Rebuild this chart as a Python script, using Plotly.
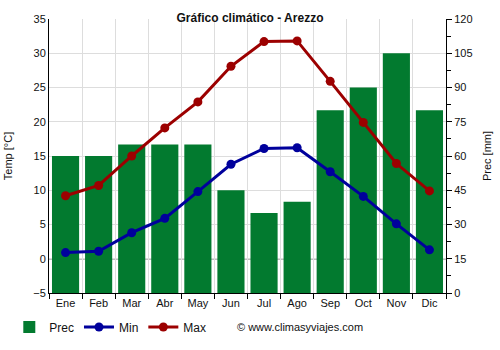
import plotly.graph_objects as go

months = ["Ene", "Feb", "Mar", "Abr", "May", "Jun", "Jul", "Ago", "Sep", "Oct", "Nov", "Dic"]
prec = [60, 60, 65, 65, 65, 45, 35, 40, 80, 90, 105, 80]
t_min = [0.9, 1.1, 3.8, 5.9, 9.8, 13.8, 16.1, 16.2, 12.7, 9.1, 5.1, 1.3]
t_max = [9.2, 10.7, 15.0, 19.1, 22.9, 28.1, 31.7, 31.8, 25.9, 19.9, 13.9, 9.9]

GREEN = "#027a2f"
BLUE = "#00009c"
RED = "#9c0000"
FONT = "Liberation Sans, Arial, sans-serif"

fig = go.Figure()
# precipitation bars on the base (right-hand) axis so the temperature lines sit above them
fig.add_trace(go.Bar(x=months, y=prec, name="Prec", marker=dict(color=GREEN, line_width=0),
                     yaxis="y", width=0.82))
fig.add_trace(go.Scatter(x=months, y=t_min, name="Min", mode="lines+markers", yaxis="y2",
                         line=dict(color=BLUE, width=3), marker=dict(size=9, color=BLUE)))
fig.add_trace(go.Scatter(x=months, y=t_max, name="Max", mode="lines+markers", yaxis="y2",
                         line=dict(color=RED, width=3), marker=dict(size=9, color=RED)))

# 0 °C reference line, kept beneath the bars
fig.add_shape(type="line", xref="paper", x0=0, x1=1, yref="y2", y0=0, y1=0,
              line=dict(color="black", width=1), layer="below")

fig.update_layout(
    width=500, height=350,
    margin=dict(l=49, r=54, t=19, b=57, autoexpand=False),
    paper_bgcolor="white", plot_bgcolor="white",
    font=dict(family=FONT, size=11, color="#111"),
    title=dict(text="<b>Gráfico climático - Arezzo</b>", x=0.5, xanchor="center",
               y=0.95, yanchor="middle", font=dict(size=12, color="#111")),
    showlegend=True,
    legend=dict(orientation="h", x=-0.1, y=-0.124, xanchor="left", yanchor="middle",
                font=dict(size=12), traceorder="normal"),
    xaxis=dict(type="category", tickson="boundaries", ticks="outside", ticklen=5,
               tickcolor="black", showgrid=True, gridcolor="#dddddd",
               showline=True, linecolor="black", linewidth=1, range=[-0.5, 11.5],
               automargin=False),
    yaxis=dict(range=[0, 120], dtick=15, side="right", automargin=False,
               showgrid=True, gridcolor="#dddddd", zeroline=False,
               showline=True, linecolor="black",
               ticks="outside", ticklen=5, tickcolor="black",
               minor=dict(dtick=7.5, ticks="outside", ticklen=4, tickcolor="black", showgrid=False),
               title=dict(text="Prec [mm]", standoff=11, font=dict(size=11))),
    yaxis2=dict(range=[-5, 35], dtick=5, overlaying="y", side="left", showgrid=False,
                zeroline=False, automargin=False,
                showline=True, linecolor="black", linewidth=1, ticks="",
                title=dict(text="Temp [°C]", standoff=18, font=dict(size=11))),
    bargap=0.18,
)
fig.add_annotation(text="© www.climasyviajes.com", xref="paper", yref="paper",
                   x=0.469, y=-0.124, xanchor="left", yanchor="middle",
                   showarrow=False, font=dict(size=11, color="#111"))

fig.write_html("out.html")
